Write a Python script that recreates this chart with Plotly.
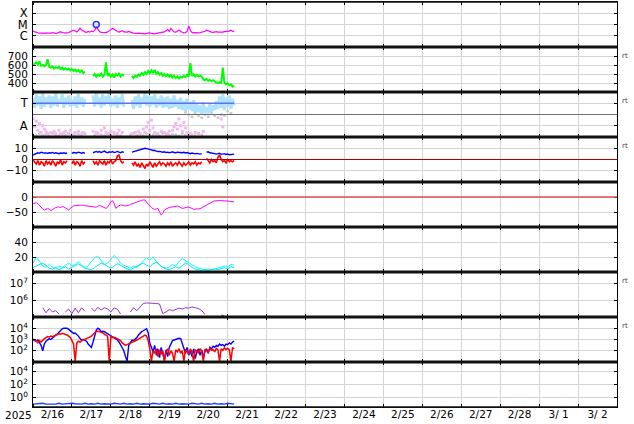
import plotly.graph_objects as go
from plotly.subplots import make_subplots
import pandas as pd

# ---------------- data ----------------
START = "2025-02-16 00:00"
day_labels_year = "2025"

# X-ray flux, in units of C1 (1e-6 W/m2), hourly
xray = [2.6, 2.2, 1.9, 1.8, 1.7, 1.8, 1.7, 1.6, 1.8, 1.7, 1.6, 1.7,
        1.9, 1.7, 1.6, 1.7, 2.0, 2.3, 1.9, 1.8, 1.7, 1.8, 1.9, 2.2,
        2.5, 3.2, 2.6, 2.2, 3.0, 4.8, 3.2, 2.5, 2.2, 2.0, 2.4, 2.1,
        2.6, 2.3, 3.0, 6.0, 3.5, 2.4, 2.0, 1.9, 1.8, 1.9, 2.2, 2.6,
        3.5, 4.6, 3.6, 2.8, 2.4, 2.1, 2.3, 2.8, 2.2, 2.0, 2.1, 2.4,
        2.0, 1.9, 1.7, 1.6, 1.6, 1.7, 1.6, 1.5, 1.6, 1.5, 1.6, 1.7,
        1.8, 1.6, 1.5, 1.5, 1.6, 1.7, 1.6, 1.8, 2.0, 2.2, 2.8, 3.6,
        2.4, 4.6, 3.0, 2.2, 2.1, 2.8, 3.3, 2.4, 2.0, 1.8, 1.9, 2.4,
        7.5, 3.0, 2.0, 1.8, 1.9, 1.8, 1.8, 1.9, 2.0, 2.2, 2.5, 3.1,
        2.6, 2.2, 2.1, 2.0, 2.2, 2.3, 2.1, 2.0, 2.2, 2.1, 2.3, 2.2,
        2.4, 2.6, 3.1, 2.6, 2.3]
flare_hour = [39]
flare_level = [10]

# Solar wind speed (km/s), hourly
wind = [600, 615, 630, 605, 640, 590, 600, 585, 600, 665, 580, 570,
        585, 560, 575, 565, 580, 555, 570, 550, 565, 548, 560, 540,
        555, 535, 548, 530, 545, 520, 540, 510, 525, None, None, None,
        None, 480, 500, 470, 495, 480, 505, 470, 490, 630, 480, 500,
        470, 495, 460, 500, 485, 505, 470, 495, 480, None, None, None,
        None, 480, 455, 480, 470, 495, 480, 510, 490, 520, 500, 535,
        510, 540, 515, 545, 500, 520, 490, 510, 480, 500, 475, 495,
        470, 490, 460, 480, 455, 475, 450, 470, 460, 480, 465, 490,
        470, 620, 480, 495, 470, 490, 475, 485, 470, 440, 430, 445,
        425, 435, 420, 430, 415, 405, 400, 410, 395, 570, 400, 385,
        395, 375, 385, 360, 370]

# Panel 3 (T / A), hourly
temp = [3.4, 2.6, 3.8, 2.8, 3.6, 2.5, 3.9, 2.7, 3.5, 2.9, 3.7, 2.6,
        3.6, 2.8, 3.9, 2.7, 3.4, 3.0, 3.8, 2.6, 3.5, 2.9, 3.7, 2.7,
        3.3, 2.8, 3.6, 2.6, 3.8, 2.9, 3.5, 2.7, 3.4, None, None, None,
        None, 3.7, 2.7, 3.9, 2.9, 3.5, 2.6, 3.8, 2.8, 3.6, 3.0, 3.9,
        2.7, 3.4, 2.8, 3.7, 2.6, 3.5, 2.9, 3.8, 2.7, None, None, None,
        None, 3.3, 2.5, 3.6, 2.8, 3.8, 2.6, 3.5, 3.0, 3.9, 2.8, 3.7,
        2.7, 3.6, 2.9, 3.8, 2.6, 3.4, 2.8, 3.7, 2.6, 3.5, 2.7, 3.6,
        2.5, 3.4, 2.6, 3.7, 2.7, 3.3, 2.5, 3.5, 2.4, 3.2, 2.3, 3.4,
        2.5, 3.1, 2.3, 3.3, 2.2, 3.0, 2.2, 2.8, 2.0, 3.1, 2.2, 2.6,
        2.1, 2.9, 2.3, 2.8, 2.4, 3.2, 2.5, 3.6, 2.6, 3.8, 2.4, 3.5,
        2.7, 3.7, 2.5, 3.4, 2.8]
temp_ref = [3.0, 3.0]
alpha = [1.6, 0.9, 1.4, 0.6, 1.2, 0.4, 1.0, 0.7, 0.5, 0.3, None, 0.4,
         None, 0.5, 0.3, None, 0.6, 0.3, None, 0.4, 0.5, None, 0.3, 0.6,
         None, 0.2, 0.4, None, 0.5, None, 0.3, 0.4, None, None, None, None,
         None, 0.5, None, 0.4, 0.3, None, 0.6, None, 0.8, 0.4, None, 0.3,
         0.5, None, 0.4, None, 0.3, 0.6, None, 0.4, None, None, None, None,
         None, 0.3, None, 0.4, None, 0.5, 0.3, None, 0.7, 0.4, 0.9, 1.3,
         0.6, 1.5, 0.8, 0.4, None, 0.3, None, 0.5, None, 0.4, None, 0.3,
         0.5, None, 0.6, 0.9, 1.2, 0.7, 1.6, 1.0, 0.5, 1.3, 0.8, 0.4,
         None, 0.3, None, None, 0.4, None, 0.3, None, None, 0.5, None, None,
         None, None, None, None, None, None, None, None, 1.6, 0.9, None, None]
gray_lo = [0.2, 0.1, 0.3, 0.15, 0.25, 0.1, 0.3, 0.2, 0.1, 0.25, 0.15, 0.3,
           0.2, 0.1, 0.25, 0.2, 0.3, None, None, 0.15, 0.3, 0.2, 0.1, 0.25,
           0.2, 0.3, 0.15, 0.1, None, None, 0.2, 0.3, 0.15, 0.25, 0.1, 0.3,
           0.2, 0.15, 0.25, 0.1, 0.3, 0.2, 0.15, 0.25, 0.2, 0.1, 0.3, 0.15,
           0.25, 0.2, 0.1, 0.3, 0.2]
gray_hi = [None] * 47 + [2.2, 2.0, 1.8, 2.1, 1.9, 1.7, 2.0, 1.8, 2.2, 1.9,
                         1.7, 2.0, 1.9, 2.3, 2.1]

# IMF Bt / Bz (nT), hourly
bt = [4.0, 4.5, 5.5, 6.0, 5.5, 6.5, 6.0, 5.8, 6.2, 5.5, 6.0,
      5.8, 6.3, 5.5, 6.0, 5.6, 5.2, 5.8, 5.5, 6.0, 5.4, 5.8,
      None, None,
      5.5, 6.2, 6.0, 5.8, 6.5, 6.0, 5.6, 6.2, 5.5,
      None, None, None, None,
      6.0, 6.8, 7.2, 6.5, 7.0, 6.2, 6.8, 7.5, 6.5, 6.0, 6.8, 6.4, 7.0, 6.2,
      6.6, 7.2, 6.5, 6.0, 6.8, 6.4,
      None, None, None, None,
      6.5, 7.0, 7.5, 8.0, 8.4, 8.8, 9.2, 9.5, 10.0, 9.6, 9.0, 8.8, 8.5, 8.0,
      8.2, 7.5, 7.0, 7.2, 6.8, 6.5,
      6.8, 6.2, 6.5, 6.0, 6.4, 6.8, 6.2, 6.0, 6.5, 6.2, 5.8, 6.0, 6.4, 5.8,
      6.2, 5.6, 5.2, 5.8, 5.5, 5.0, 5.4, 5.0, 4.8, 5.2,
      None, None,
      6.5, 6.8, 6.0, 5.5, 5.0, 5.2, 4.8, 5.0, 5.5, 4.6, 4.8, 5.2, 4.5, 4.8,
      4.2, 4.6, 4.4, 4.8]
bz = [-0.5, -2, -4, -1, -5, -2, -3, -6, -1, -4, -2,
      -5, -1, -3, -6, -2, -4, 0, -5, -2, -3, -1,
      None, None,
      -4, -1, -5, -2, -3, -6, -1, -4, -2,
      None, None, None, None,
      -1, -4, -2, -5, -1, -3, -4, -1, -5, -2, -3, 0, -4, -2, -1, 3, 4, -1,
      -3, -2,
      None, None, None, None,
      -3, -5, -2, -6, -4, -7, -3, -5, -8, -4, -6, -2, -5, -7, -3, -6, -4, -2,
      -5, -3,
      -4, -6, -3, -5, -2, -6, -4, -3, -5, -2, -4, -6, -3, -5, -4, -2, -5, -3,
      -4, -2, -5, -3, -4, -2,
      None, None,
      1, -1, -3, 0, -2, -1, -3, 2, 4, 0, -2, -1, -3, 0, -2, -1, -2, -1]

# Dst (nT), hourly
dst = [-23, -21, -19, -22, -28, -35, -40, -43, -41, -39,
       -40, -46, -42, -38, -35, -34, -33, -35, -32, -33,
       -37, -40, -43, -38, -33, -30, -29, -28, -28, -27,
       -28, -27, -29, -30, -29, -30, -31, -32, -33, -34,
       -31, -28, -30, -33, -36, -38, -34, -25, -16, -12,
       -22, -38, -33, -29, -27, -27, -28, -30, -30, -28,
       -25, -23, -21, -18, -15, -13, -12, -11, -10, -10,
       -18, -25, -30, -35, -39, -41, -40, -38, -50, -60,
       -55, -43, -40, -37, -35, -34, -33, -32, -31, -30,
       -32, -35, -38, -37, -35, -34, -34, -35, -38, -41,
       -41, -40, -40, -39, -36, -33, -30, -26, -22, -19,
       -17, -15, -13, -12, -12, -12, -12, -12, -12, -12,
       -13, -14, -15, -15, -16]

# Panel 6 (two cyan series), 2-hourly
cyan_a = [12, 20, 14, 8, 6, 10, 7, 5, 8, 6, 9, 12, 8, 10, 14, 9, 6, 8, 14,
          19, 21, 15, 10, 12, 17, 22, 18, 12, 9, 7, 5, 8, 6, 10, 15, 19, 16,
          20, 14, 9, 6, 5, 7, 10, 8, 14, 18, 15, 12, 9, 7, 5, 4, 3, 4, 3, 4,
          5, 6, 8, 7, 10, 9]
cyan_b = [6, 8, 10, 12, 9, 5, 4, 6, 3, 5, 7, 4, 6, 9, 11, 8, 5, 4, 3, 6, 9,
          12, 10, 7, 5, 8, 11, 9, 6, 4, 3, 5, 7, 10, 12, 9, 7, 11, 13, 10, 6,
          4, 3, 5, 7, 5, 9, 12, 10, 6, 4, 3, 2, 3, 2, 3, 4, 3, 5, 6, 4, 7, 6]

# Electron flux, 2-hourly
electron = [None, None, None, 3.6e5, 1.8e5, 3.2e5, 2.0e5, 2.4e5, 1.5e5, None,
            2.0e5, 3.0e5, 1.6e5, 3.4e5, 1.8e5, 3.6e5, 2.2e5, None, 3.5e5,
            2.2e5, 3.8e5, 2.6e5, 3.6e5, 3.0e5, 2.0e5, 3.5e5, 3.0e5, 1.5e5,
            None, None, 2.0e5, 3.6e5, 2.4e5, 4.0e5, 6.5e5, 7.0e5, 6.8e5,
            7.2e5, 6.5e5, 6.0e5, 1.6e5, 2.0e5, 2.8e5, 2.4e5, 3.0e5, 3.4e5,
            3.0e5, 3.6e5, 3.4e5, 4.0e5, 3.6e5, 3.2e5, 2.5e5, 1.4e5, None,
            None, None, None, 1.3e5, 1.2e5, None, None, None]

# Panel 8 (blue / red), hourly
p8_blue = [900, 800, 700, 900, 500, 300, 100, 400, 700, 900, 1200, 1000,
           1500, 1800, 2500, 3000, 4500, 7000, 9000, 10000, 9500, 10000, 8000,
           6000, 4000, 3500, 3800, 3000, 2000, 1200, 900, 1000, 800, 700, 400,
           300, 200, 600, 2000, 7000, 10000, 8000, 5000, 5500, 5000, 4000,
           3500, 3000, 2000, 1800, 1500, 1200, 900, 600, 300, 200, 100, 30,
           12, 300, 600, 900, 800, 1000, 1500, 2500, 4000, 5000, 6000, 7000,
           9000, 4000, 500, 200, 80, 300, 40, 150, 25, 200, 60, 15, 120, 30,
           200, 400, 800, 900, 1000, 1100, 1300, 1200, 500, 150, 60, 200, 40,
           100, 30, 150, 20, 80, 150, 40, 120, 25, 90, 150, 60, 200, 150, 250,
           200, 300, 250, 400, 300, 350, 250, 400, 350, 500, 400, 600, 700]
p8_red = [1100, 900, 700, 500, 800, 600, 900, 1200, 1500, 1800, 1700, 2000,
          1800, 2200, 2500, 2800, 3200, 3000, 3500, 3200, 3000, 2500, 2000,
          1500, 800, 400, 12, 500, 700, 600, 800, 900, 1000, 1200, 1400, 1600,
          2000, 3000, 4000, 5000, 5500, 5000, 4500, 4000, 3000, 2500, 2000,
          12, 1800, 1500, 1600, 1400, 1200, 1100, 800, 500, 400, 300, 350,
          400, 500, 600, 700, 800, 900, 1100, 1300, 1600, 2000, 2500, 2000,
          800, 150, 12, 100, 60, 150, 30, 120, 50, 100, 12, 80, 150, 40, 100,
          60, 12, 120, 80, 150, 60, 100, 12, 130, 90, 50, 150, 80, 12, 120,
          100, 60, 150, 90, 12, 140, 100, 70, 160, 110, 130, 80, 160, 120, 12,
          150, 110, 180, 130, 160, 120, 12, 180, 150]

# Panel 9 (proton flux), 2-hourly
proton = [0.09, 0.1, 0.09, 0.12, 0.09, 0.1, 0.09, 0.09, 0.12, 0.09, 0.1,
          0.09, 0.12, 0.1, 0.09, 0.09, 0.12, 0.09, 0.1, 0.09, 0.12, 0.09,
          0.1, 0.09, 0.09, 0.12, 0.1, 0.09, 0.12, 0.09, 0.1, 0.09, 0.12,
          0.09, 0.1, 0.09, 0.09, 0.12, 0.1, 0.09, 0.12, 0.09, 0.1, 0.09,
          0.12, 0.09, 0.1, 0.09, 0.09, 0.12, 0.1, 0.09, 0.12, 0.09, 0.1,
          0.09, 0.12, 0.09, 0.1, 0.09, 0.12, 0.1, 0.09]

day_tick_format = "%-m/%e"
rt_rows = [2, 3, 4, 7, 8]


def times(n, step_h=1.0):
    t0 = pd.Timestamp(START)
    return [t0 + pd.Timedelta(hours=step_h * i) for i in range(n)]


def pow10(e):
    return "10<sup>%d</sup>" % e


# ---------------- figure ----------------
fig = make_subplots(rows=9, cols=1, shared_xaxes=True, vertical_spacing=0)

def line(row, y, color, step=1.0, width=1.0, mode="lines", msize=3, symbol="circle"):
    fig.add_trace(go.Scatter(x=times(len(y), step), y=y, mode=mode,
                             line=dict(color=color, width=width),
                             marker=dict(color=color, size=msize, symbol=symbol),
                             connectgaps=False, hoverinfo="skip"), row=row, col=1)

line(1, xray, "#ff00ff", width=1.2)
fig.add_trace(go.Scatter(x=[pd.Timestamp(START) + pd.Timedelta(hours=h) for h in flare_hour],
                         y=flare_level, mode="markers", hoverinfo="skip",
                         marker=dict(symbol="circle-open", color="#3030ff", size=6,
                                     line=dict(width=1.5))), row=1, col=1)
line(2, wind, "#00ff00", width=2.0)
line(3, gray_lo, "#c8c8c8", step=2, mode="markers", msize=3)
line(3, gray_hi, "#c8c8c8", step=2, mode="markers", msize=3)
line(3, temp, "#aee3fb", width=3)
fig.add_trace(go.Scatter(x=[pd.Timestamp(START), pd.Timestamp(START) + pd.Timedelta(hours=124)],
                         y=temp_ref, mode="lines", hoverinfo="skip",
                         line=dict(color="#6070f0", width=1.5)),
              row=3, col=1)
line(3, alpha, "#f4b8f0", mode="markers", msize=3, symbol="square")
line(4, bt, "#0000ff", width=1.4)
line(4, bz, "#ff0000", width=1.6)
line(5, dst, "#ff00ff", width=1.0)
line(6, cyan_a, "#00ffff", step=2, width=1.0)
line(6, cyan_b, "#00e8f0", step=2, width=1.0)
line(7, electron, "#9933cc", step=2, width=1.0)
line(8, p8_blue, "#0000ff", width=1.4)
line(8, p8_red, "#ff0000", width=1.5)
line(9, proton, "#2040ff", step=2, width=1.4)

# ---------------- axes ----------------
tickfont = dict(family="DejaVu Sans", size=10.5, color="black")
letterfont = dict(family="DejaVu Sans", size=11.5, color="black")
grid = "#d4d4d4"
fig.update_xaxes(type="date", range=["2025-02-16", "2025-03-03"],
                 tick0="2025-02-16", dtick=86400000, ticklabelmode="period",
                 tickformat=day_tick_format, tickfont=tickfont,
                 showgrid=True, gridcolor=grid, gridwidth=1,
                 ticks="inside", ticklen=3, tickcolor="black",
                 showline=True, linecolor="black", linewidth=1, mirror="ticks",
                 zeroline=False, automargin=False)
fig.update_xaxes(row=9, ticklabelstandoff=-3)
fig.update_yaxes(showgrid=True, gridcolor=grid, gridwidth=1, zeroline=False,
                 ticks="inside", ticklen=3, tickcolor="black",
                 showline=True, linecolor="black", linewidth=1, mirror="ticks",
                 tickfont=tickfont, ticklabelstandoff=2, automargin=False)

fig.update_yaxes(row=1, type="log", range=[-1, 3], tickvals=[1, 10, 100],
                 ticktext=["C", "M", "X"], tickfont=letterfont)
fig.update_yaxes(row=2, range=[300, 800], tickvals=[400, 500, 600, 700])
fig.update_yaxes(row=3, range=[0, 4], tickvals=[1, 3], ticktext=["A", "T"],
                 tickfont=letterfont)
fig.update_yaxes(row=4, range=[-20, 20], tickvals=[-10, 0, 10])
fig.update_yaxes(row=5, range=[-100, 50], tickvals=[-50, 0])
fig.update_yaxes(row=6, range=[0, 60], tickvals=[20, 40])
fig.update_yaxes(row=7, type="log", range=[5, 7.7], tickvals=[1e6, 1e7],
                 ticktext=[pow10(6), pow10(7)])
fig.update_yaxes(row=8, type="log", range=[1, 5], tickvals=[1e2, 1e3, 1e4],
                 ticktext=[pow10(2), pow10(3), pow10(4)])
fig.update_yaxes(row=9, type="log", range=[-1.5, 5.5], tickvals=[1, 1e2, 1e4],
                 ticktext=[pow10(0), pow10(2), pow10(4)])

# ---------------- reference lines / frame ----------------
shapes = []
def hline(yref, yv, color, width, dash="solid"):
    shapes.append(dict(type="line", xref="paper", x0=0, x1=1, yref=yref, y0=yv, y1=yv,
                       line=dict(color=color, width=width, dash=dash)))

hline("y3", 2, "#707070", 1.2)
hline("y4", 0, "#b00000", 1.2)
hline("y5", 0, "#e05050", 1.5)
hline("y7", 6, "#dd0000", 1.2)
hline("y7", 7, "#dd0000", 1.2)
hline("y8", 4, "#e03030", 1.5, dash="10px,6px")
for k in range(1, 9):
    hline("paper", k / 9, "#111111", 3)
hline("paper", 1, "#111111", 1.5)
hline("paper", 0, "#111111", 1.5)
fig.update_layout(shapes=shapes)

annotations = [dict(text=day_labels_year, xref="paper", yref="paper", x=-0.0245, y=-0.0198,
                    xanchor="center", yanchor="middle", showarrow=False,
                    font=tickfont)]
for r in rt_rows:
    top = 1 - (r - 1) / 9
    annotations.append(dict(text="rt", xref="paper", yref="paper", x=1.005, y=top - 0.022,
                            xanchor="left", yanchor="middle", showarrow=False,
                            font=dict(family="DejaVu Sans", size=7, color="#444444")))
fig.update_layout(annotations=annotations)

fig.update_layout(width=634, height=424, margin=dict(l=33, r=17, t=2, b=17),
                  paper_bgcolor="white", plot_bgcolor="white", showlegend=False,
                  hovermode=False)

fig.write_html("out.html", config={"displayModeBar": False},
               post_script="document.body.style.margin='0';document.body.style.overflow='hidden';")
